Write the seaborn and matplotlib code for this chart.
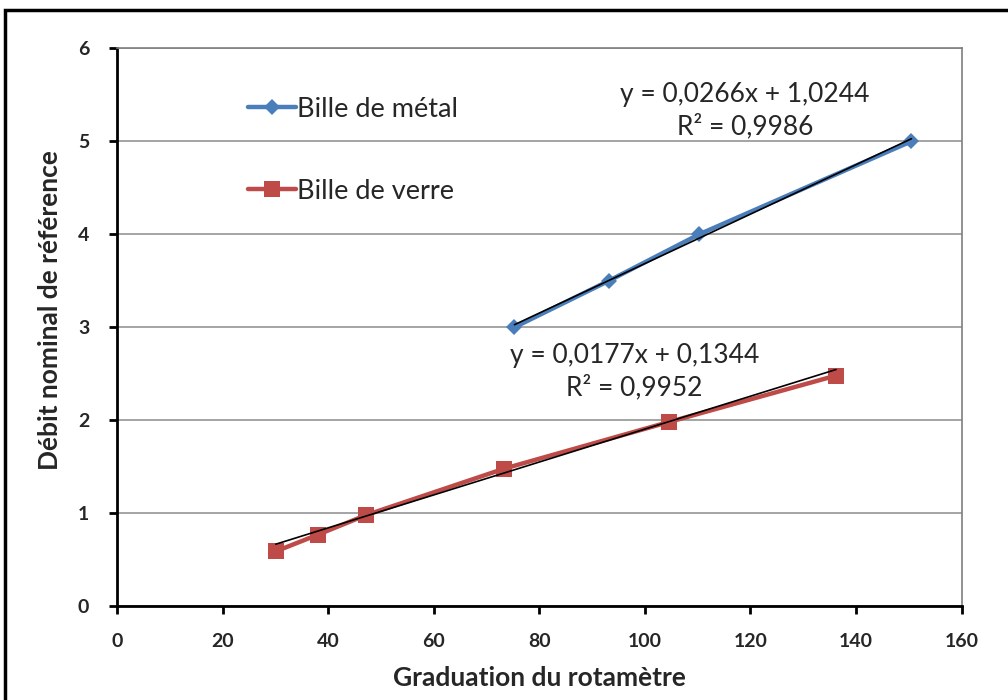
import numpy as np
import pandas as pd
import matplotlib
matplotlib.use("Agg")
import matplotlib.pyplot as plt
import seaborn as sns
from matplotlib.patches import Rectangle

# Data
metal_x = [75.3, 93.2, 110.3, 150.5]
metal_y = [3.0, 3.5, 4.0, 5.0]
verre_x = [30.1, 38.1, 47.2, 73.4, 104.5, 136.2]
verre_y = [0.59, 0.77, 0.98, 1.48, 1.98, 2.48]
metal_fit = [0.0266, 1.0244]
verre_fit = [0.0177, 0.1344]
series_names = ["Bille de métal", "Bille de verre"]
eq_metal = ["y = 0,0266x + 1,0244", "R² = 0,9986"]
eq_verre = ["y = 0,0177x + 0,1344", "R² = 0,9952"]
x_ticks = [0, 20, 40, 60, 80, 100, 120, 140, 160]
y_ticks = [0, 1, 2, 3, 4, 5, 6]

sns.set_style("white")
plt.rcParams['font.family'] = ['Lato', 'DejaVu Sans']

fig = plt.figure(figsize=(10.08, 7.0), dpi=100)
ax = fig.add_axes([0.116, 0.134, 0.838, 0.797])

blue = "#4A7EBB"
red = "#BE4B48"

df_m = pd.DataFrame({"x": metal_x, "y": metal_y})
df_v = pd.DataFrame({"x": verre_x, "y": verre_y})
sns.lineplot(data=df_m, x="x", y="y", ax=ax, color=blue, lw=3.2, marker="D",
             markersize=8.5, markeredgewidth=0, label=series_names[0], zorder=3)
sns.lineplot(data=df_v, x="x", y="y", ax=ax, color=red, lw=3.2, marker="s",
             markersize=11, markeredgewidth=0, label=series_names[1], zorder=3)

# trendlines
for xs, fit in [(metal_x, metal_fit), (verre_x, verre_fit)]:
    xx = np.array([min(xs), max(xs)])
    ax.plot(xx, fit[0] * xx + fit[1], color="black", lw=1.2, zorder=4)

ax.set_xlim(0, 160)
ax.set_ylim(0, 6)
ax.set_xticks(x_ticks)
ax.set_yticks(y_ticks)
ax.yaxis.grid(True, color="#8c8c8c", lw=1.1)
ax.set_axisbelow(True)
for s in ["left", "bottom"]:
    ax.spines[s].set_color("black")
    ax.spines[s].set_linewidth(2)
for s in ["top", "right"]:
    ax.spines[s].set_color("#7f7f7f")
    ax.spines[s].set_linewidth(1.2)
ax.tick_params(axis="both", direction="out", length=6, width=2, color="black",
               labelsize=14, bottom=True, left=True)
for lab in ax.get_xticklabels() + ax.get_yticklabels():
    lab.set_fontweight("bold")
ax.xaxis.set_tick_params(pad=13)
ax.yaxis.set_tick_params(pad=14)

ax.set_xlabel("Graduation du rotamètre", fontsize=19, fontweight="bold", labelpad=12)
ax.set_ylabel("Débit nominal de référence", fontsize=19, fontweight="bold")
ax.yaxis.set_label_coords(-0.065, 0.53)

leg = ax.legend(loc="upper left", bbox_to_anchor=(0.1556, 0.913), frameon=False,
                borderpad=0, borderaxespad=0,
                fontsize=19.5, handlelength=1.75, handletextpad=0.05, labelspacing=2.1)

ax.text(119, 5.33, eq_metal[0] + "\n" + eq_metal[1], ha="center", va="center",
        fontsize=19, linespacing=1.3)
ax.text(98, 2.52, eq_verre[0] + "\n" + eq_verre[1], ha="center", va="center",
        fontsize=19, linespacing=1.3)

fig.patches.append(Rectangle((0.005, -0.01), 1.0, 0.996, transform=fig.transFigure,
                             fill=False, edgecolor="black", lw=2.5))

fig.savefig("out.png", dpi=100)
